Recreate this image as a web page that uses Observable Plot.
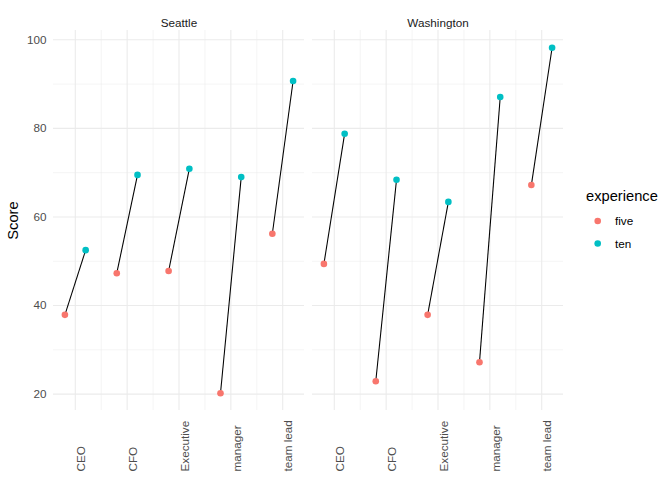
<!DOCTYPE html>
<html>
<head>
<meta charset="utf-8">
<script src="https://cdn.jsdelivr.net/npm/d3@7"></script>
<script src="https://cdn.jsdelivr.net/npm/@observablehq/plot@0.6"></script>
<style>
  html, body { margin: 0; padding: 0; background: white; }
  #wrap { position: relative; width: 672px; height: 480px; font-family: "Liberation Sans", Arial, sans-serif; }
  #legend { position: absolute; left: 0; top: 0; pointer-events: none; }
</style>
</head>
<body>
<div id="wrap"></div>
<script>
const cities = ["Seattle", "Washington"];
const roles = ["CEO", "CFO", "Executive", "manager", "team lead"];
const experience = ["five", "ten"];
const colors = ["#F8766D", "#00BFC4"];
const fiveSeattle = [37.9, 47.3, 47.8, 20.2, 56.2];
const tenSeattle = [52.5, 69.5, 70.9, 69.0, 90.7];
const fiveWashington = [49.4, 22.9, 37.9, 27.2, 67.2];
const tenWashington = [78.8, 68.4, 63.4, 87.1, 98.2];
const yTicks = [20, 40, 60, 80, 100];
const yMinor = [30, 50, 70, 90];

const series = {
  Seattle: {five: fiveSeattle, ten: tenSeattle},
  Washington: {five: fiveWashington, ten: tenWashington}
};
const pairs = [];
const points = [];
const labels = [];
for (const city of cities) {
  roles.forEach((role, k) => {
    const i = k + 1;
    const five = series[city].five[k], ten = series[city].ten[k];
    pairs.push({city, role, i, five, ten});
    points.push({city, role, i, exp: "five", score: five});
    points.push({city, role, i, exp: "ten", score: ten});
    labels.push({city, role, i});
  });
}
const majorX = roles.map((r, k) => k + 1);
const minorX = roles.slice(1).map((r, k) => k + 1.5);
const dodge = 0.2;

const plot = Plot.plot({
  width: 672,
  height: 480,
  marginLeft: 53,
  marginRight: 108,
  marginTop: 30,
  marginBottom: 70,
  style: {fontFamily: "'Liberation Sans', Arial, sans-serif", background: "white", overflow: "visible"},
  fx: {domain: cities, paddingInner: 0.029, paddingOuter: 0, label: null},
  x: {type: "linear", domain: [0.58, 5.42], axis: null},
  y: {domain: [16.3, 102.1], axis: null},
  color: {domain: experience, range: colors},
  marks: [
    Plot.ruleY(yMinor, {stroke: "#EBEBEB", strokeWidth: 0.55}),
    Plot.ruleY(yTicks, {stroke: "#EBEBEB", strokeWidth: 1.07}),
    Plot.ruleX(minorX, {stroke: "#EBEBEB", strokeWidth: 0.55}),
    Plot.ruleX(majorX, {stroke: "#EBEBEB", strokeWidth: 1.07}),
    Plot.axisY({ticks: yTicks, tickSize: 0, tickPadding: 7, fontSize: 11.7, color: "#4D4D4D", label: null}),
    Plot.axisY({ticks: [], tickSize: 0, fontSize: 14.7, color: "black",
      label: "Score", labelAnchor: "center", labelArrow: "none", labelOffset: 46}),
    Plot.axisFx({anchor: "top", tickSize: 0, tickPadding: 4, fontSize: 11.7, color: "#1A1A1A", label: null}),
    Plot.text(labels, {fx: "city", x: "i", text: "role", frameAnchor: "bottom", rotate: -90,
      textAnchor: "start", lineAnchor: "middle", dy: 61, dx: 6, fill: "#4D4D4D", fontSize: 11.7}),
    Plot.link(pairs, {fx: "city", x1: d => d.i - dodge, x2: d => d.i + dodge, y1: "five", y2: "ten",
      stroke: "black", strokeWidth: 1.07}),
    Plot.dot(points, {fx: "city", x: d => d.i + (d.exp === "five" ? -dodge : dodge), y: "score",
      fill: "exp", r: 3.3})
  ]
});

const wrap = document.getElementById("wrap");
wrap.appendChild(plot);

// legend
const color = d3.scaleOrdinal(experience, colors);
const leg = d3.create("svg").attr("id", "legend").attr("width", 672).attr("height", 480)
  .style("font-family", "'Liberation Sans', Arial, sans-serif");
leg.append("text").attr("x", 586).attr("y", 201).attr("font-size", 14.7).attr("fill", "black").text("experience");
experience.forEach((e, j) => {
  const cy = 221 + j * 22.5;
  leg.append("circle").attr("cx", 597.7).attr("cy", cy).attr("r", 3.3).attr("fill", color(e));
  leg.append("text").attr("x", 615).attr("y", cy).attr("dy", "0.35em").attr("font-size", 11.7)
    .attr("fill", "black").text(e);
});
wrap.appendChild(leg.node());
</script>
</body>
</html>
